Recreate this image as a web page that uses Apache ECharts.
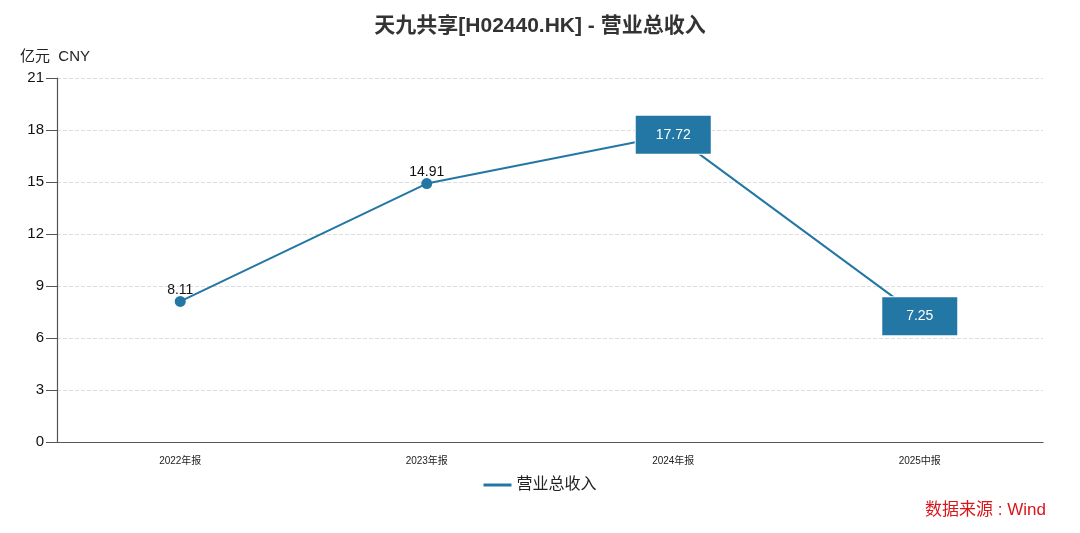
<!DOCTYPE html>
<html><head><meta charset="utf-8">
<script src="https://cdn.jsdelivr.net/npm/echarts@6/dist/echarts.min.js"></script>
<style>html,body{margin:0;padding:0;background:#fff}#c{width:1080px;height:533px}</style>
</head><body><div id="c"></div>
<script>
var categories = ['2022年报','2023年报','2024年报','2025中报'];
var revenue = [8.11, 14.91, 17.72, 7.25];
var boxed = [false, false, true, true];

var FONT = '"Liberation Sans", "Noto Sans CJK SC", sans-serif';
var color = '#2377a4';
var data = revenue.map(function(v,i){
  if (boxed[i]) {
    return {value:v, symbolSize:0, label:{show:true, position:'inside', color:'#fff', fontSize:14, fontFamily:FONT,
      backgroundColor:color, width:47, align:'center', padding:[12,14], borderColor:'#fff', borderWidth:1}};
  }
  return {value:v, label:{show:true, position:'top', color:'#111', fontSize:14, distance:-1.5, fontFamily:FONT}};
});

var chart = echarts.init(document.getElementById('c'));
chart.setOption({
  animation:false,
  textStyle:{fontFamily:FONT},
  title:{text:'天九共享[H02440.HK] - 营业总收入', left:'center', top:11,
    textStyle:{fontSize:21, fontWeight:'bold', color:'#333', fontFamily:FONT}},
  grid:{left:57, right:37, top:78, bottom:91},
  legend:{bottom:35, left:'center', itemWidth:28, itemHeight:3, icon:'rect',
    textStyle:{fontSize:16, color:'#222', fontFamily:FONT}},
  graphic:[{type:'text', right:34, bottom:14, style:{text:'数据来源 : Wind', fill:'#d9161c', fontSize:17, fontFamily:FONT}}],
  xAxis:{type:'category', data:categories, boundaryGap:true,
    axisLine:{lineStyle:{color:'#555', width:1.2}},
    axisTick:{alignWithLabel:true, length:10, lineStyle:{color:'#555'}},
    axisLabel:{fontSize:10, color:'#222', margin:14, fontFamily:FONT}},
  yAxis:{type:'value', min:0, max:21, interval:3,
    name:'亿元  CNY', nameLocation:'end', nameGap:14,
    nameTextStyle:{fontSize:15, color:'#222', align:'left', padding:[0,0,0,-37], fontFamily:FONT},
    axisLine:{show:true, lineStyle:{color:'#555', width:1.2}},
    axisTick:{show:true, inside:false, length:11, lineStyle:{color:'#555'}},
    axisLabel:{fontSize:15, color:'#111', margin:13, fontFamily:FONT},
    splitLine:{lineStyle:{type:'dashed', color:'#ddd'}}},
  series:[{name:'营业总收入', type:'line', data:data, symbol:'circle', symbolSize:11,
    itemStyle:{color:color}, lineStyle:{width:2, color:color}}]
});
</script></body></html>
